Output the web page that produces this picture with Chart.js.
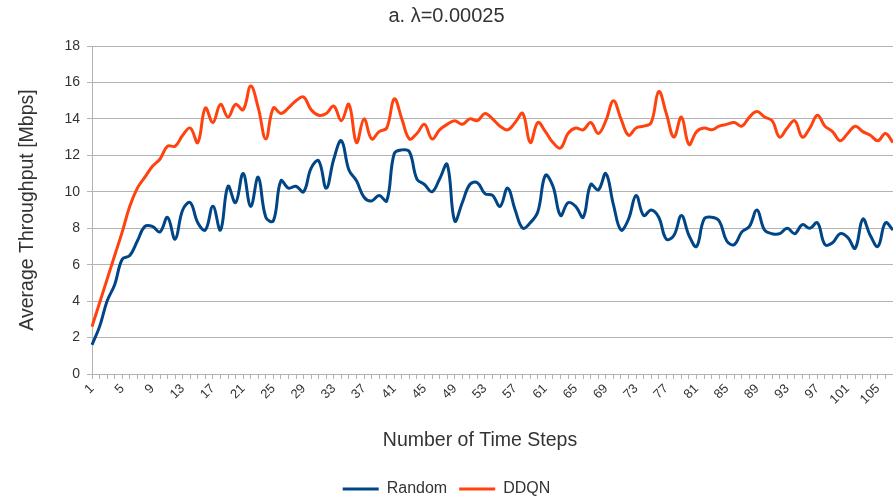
<!DOCTYPE html>
<html>
<head>
<meta charset="utf-8">
<script src="https://cdn.jsdelivr.net/npm/chart.js@4.4.1/dist/chart.umd.min.js"></script>
<style>
  html, body { margin: 0; padding: 0; background: #fff; }
  #wrap { width: 893px; height: 499px; }
</style>
</head>
<body>
<div id="wrap"><canvas id="throughput"></canvas></div>
<script>
// time steps 1..107
const steps = Array.from({ length: 107 }, (_, i) => String(i + 1));

const randomTput = [
  1.6, 2.6, 4.0, 4.9, 6.3, 6.5, 7.3, 8.1, 8.1, 7.8,
  8.6, 7.4, 9.0, 9.4, 8.3, 7.9, 9.2, 7.9, 10.3, 9.4,
  11.0, 9.2, 10.8, 8.6, 8.4, 10.6, 10.2, 10.3, 10.0, 11.3,
  11.7, 10.2, 11.8, 12.8, 11.2, 10.6, 9.7, 9.5, 9.8, 9.5,
  12.1, 12.3, 12.2, 10.7, 10.4, 10.0, 10.7, 11.5, 8.4, 9.4,
  10.4, 10.5, 9.9, 9.8, 9.2, 10.2, 9.0, 8.0, 8.3, 8.9,
  10.9, 10.3, 8.7, 9.4, 9.2, 8.6, 10.4, 10.1, 11.0, 9.3,
  7.9, 8.5, 9.8, 8.7, 9.0, 8.6, 7.4, 7.6, 8.7, 7.6,
  7.0, 8.5, 8.6, 8.4, 7.3, 7.1, 7.8, 8.1, 9.0, 7.9,
  7.7, 7.7, 8.0, 7.7, 8.2, 8.0, 8.3, 7.1, 7.2, 7.7,
  7.5, 6.9, 8.5, 7.6, 7.0, 8.3, 7.9
];

const ddqnTput = [
  2.6, 3.9, 5.2, 6.5, 7.8, 9.2, 10.2, 10.8, 11.4, 11.8,
  12.5, 12.5, 13.1, 13.5, 12.7, 14.6, 13.8, 14.8, 14.1, 14.8,
  14.5, 15.8, 14.6, 12.9, 14.6, 14.3, 14.6, 15.0, 15.2, 14.5,
  14.2, 14.3, 14.7, 13.9, 14.8, 12.7, 14.0, 12.9, 13.3, 13.5,
  15.1, 14.0, 12.9, 13.2, 13.7, 12.9, 13.4, 13.7, 13.9, 13.7,
  14.0, 13.9, 14.3, 14.0, 13.6, 13.4, 13.8, 14.3, 12.7, 13.8,
  13.3, 12.7, 12.4, 13.2, 13.5, 13.4, 13.8, 13.2, 13.9, 15.0,
  14.0, 13.1, 13.5, 13.6, 13.8, 15.5, 14.3, 13.0, 14.1, 12.6,
  13.3, 13.5, 13.4, 13.6, 13.7, 13.8, 13.6, 14.1, 14.4, 14.1,
  13.9, 13.0, 13.5, 13.9, 13.0, 13.5, 14.2, 13.6, 13.3, 12.8,
  13.2, 13.6, 13.3, 13.1, 12.8, 13.2, 12.7
];

const yTicks = [0, 2, 4, 6, 8, 10, 12, 14, 16, 18];

const FONT = "'Liberation Sans', Arial, sans-serif";
const TEXT = '#333333';
const GRID = '#b3b3b3';

// x axis caption, drawn under the rotated step labels
const xCaption = {
  id: 'xCaption',
  afterDraw(chart) {
    const ctx = chart.ctx;
    ctx.save();
    ctx.fillStyle = TEXT;
    ctx.font = '19.5px ' + FONT;
    ctx.textAlign = 'center';
    ctx.textBaseline = 'middle';
    ctx.fillText('Number of Time Steps', 480, 441);
    ctx.restore();
  }
};

new Chart(document.getElementById('throughput'), {
  type: 'line',
  data: {
    labels: steps,
    datasets: [
      {
        label: 'Random',
        data: randomTput,
        borderColor: '#004586',
        backgroundColor: '#004586',
        borderWidth: 3,
        pointRadius: 0,
        tension: 0.4
      },
      {
        label: 'DDQN',
        data: ddqnTput,
        borderColor: '#ff420e',
        backgroundColor: '#ff420e',
        borderWidth: 3,
        pointRadius: 0,
        tension: 0.4
      }
    ]
  },
  plugins: [xCaption],
  options: {
    responsive: true,
    maintainAspectRatio: false,
    animation: false,
    layout: { padding: { top: 0, left: 0, right: 0, bottom: -8 } },
    plugins: {
      title: {
        display: true,
        text: 'a. λ=0.00025',
        color: TEXT,
        font: { family: FONT, size: 20, weight: 'normal' },
        padding: { top: 4, bottom: 18 }
      },
      legend: {
        position: 'bottom',
        labels: {
          color: TEXT,
          font: { family: FONT, size: 16, lineHeight: 1 },
          usePointStyle: true,
          pointStyle: 'line',
          pointStyleWidth: 36,
          boxHeight: 3,
          padding: 12
        }
      },
      tooltip: { enabled: false }
    },
    scales: {
      x: {
        offset: false,
        grid: { display: true, drawOnChartArea: false, color: GRID, tickLength: 5 },
        border: { color: GRID },
        ticks: {
          autoSkip: false,
          maxRotation: 45,
          minRotation: 45,
          color: TEXT,
          font: { family: FONT, size: 13 },
          padding: 2,
          callback: function (val, idx) {
            return idx % 4 === 0 ? this.getLabelForValue(val) : '';
          }
        },
        afterFit: s => { s.height = 95; s.paddingRight = 0; }
      },
      y: {
        min: 0,
        max: 18,
        afterBuildTicks: s => { s.ticks = yTicks.map(v => ({ value: v })); },
        grid: { color: GRID, tickLength: 5, lineWidth: 1 },
        border: { color: GRID },
        ticks: {
          color: TEXT,
          font: { family: FONT, size: 14 },
          padding: 7
        },
        title: {
          display: true,
          text: 'Average Throughput [Mbps]',
          color: TEXT,
          font: { family: FONT, size: 19.5 },
          padding: { top: 16, bottom: 0 }
        },
        afterFit: s => { s.width = 92; }
      }
    }
  }
});
</script>
</body>
</html>
